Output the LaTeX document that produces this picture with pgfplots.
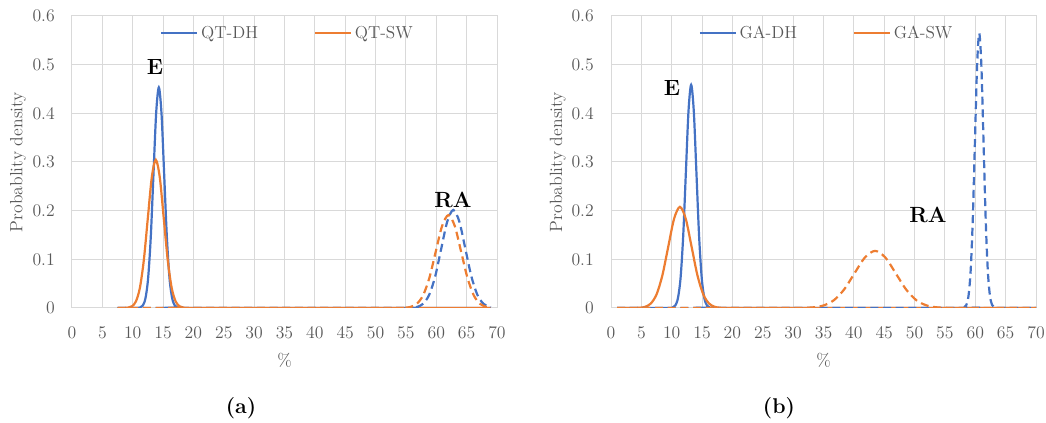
\documentclass[border=0pt]{standalone}
\usepackage{pgfplots}
\pgfplotsset{compat=1.18}
\definecolor{xlBlue}{HTML}{4472C4}
\definecolor{xlOrange}{HTML}{ED7D31}
\definecolor{xlGrid}{HTML}{D9D9D9}
\definecolor{xlText}{HTML}{595959}

\pgfplotsset{
  pdfpanel/.style={
    scale only axis, width=318.75pt, height=219pt,
    xmin=0, xmax=70, ymin=0, ymax=0.6,
    xtick={0,5,...,70}, ytick={0,0.1,0.2,0.3,0.4,0.5,0.6},
    grid=major, major grid style={xlGrid, line width=0.75pt},
    axis line style={xlGrid, line width=0.75pt},
    tick style={draw=none},
    /pgf/number format/assume math mode=true,
    /pgf/number format/fixed,
    tick label style={text=xlText, font=\fontsize{13.3}{16}\selectfont},
    xticklabel style={anchor=center, yshift=-18.75pt},
    yticklabel style={anchor=east, inner sep=0pt, xshift=-12.75pt},
    xlabel={\%}, ylabel={Probablity density},
    label style={text=xlText, font=\fontsize{13.3}{16}\selectfont},
    xlabel style={at={(axis description cs:0.5,-0.178)}, anchor=center},
    legend columns=2,
    legend style={draw=none, fill=none, at={(0.508,0.942)}, anchor=center,
      font=\fontsize{13}{16}\selectfont, text=xlText,
      /tikz/every even column/.append style={column sep=40pt}},
    legend image code/.code={\draw[#1] (0pt,0pt) -- (27pt,0pt);},
    every axis plot/.append style={line width=1.65pt},
  },
  solidE/.style={solid, smooth},
  dashRA/.style={dash pattern=on 6pt off 3.5pt, smooth},
}
\tikzset{peaklbl/.style={font=\bfseries\fontsize{16.5}{19}\selectfont, text=black}}

\begin{document}
\begin{tikzpicture}
\path[use as bounding box] (0,0) rectangle (784.5pt,317.25pt);

% (a) QT
\begin{axis}[pdfpanel, at={(54pt,86.25pt)}, anchor=south west,
  ylabel style={at={(axis description cs:-0.127,0.5)}, anchor=center}]
\addplot[xlBlue, solidE] coordinates {
 (7.5,0) (10.34,0) (11.22,0.00099) (11.66,0.00504) (12.10,0.01992) (12.54,0.06135)
 (12.98,0.14718) (13.42,0.27497) (13.86,0.40007) (14.30,0.45334) (14.74,0.40007)
 (15.18,0.27497) (15.62,0.14718) (16.06,0.06135) (16.50,0.01992) (16.94,0.00504)
 (17.38,0.00099) (18.26,0) (69,0)};
\addlegendentry{QT-DH}
\addplot[xlOrange, solidE] coordinates {
 (7.5,0) (7.905,0) (9.215,0.000666) (9.87,0.003383) (10.525,0.01338) (11.18,0.04121)
 (11.835,0.09887) (12.49,0.18471) (13.145,0.26875) (13.8,0.30454) (14.455,0.26875)
 (15.11,0.18471) (15.765,0.09887) (16.42,0.04121) (17.075,0.01338) (17.73,0.003383)
 (18.385,0.000666) (19.695,0) (69,0)};
\addlegendentry{QT-SW}
\addplot[xlBlue, dashRA, forget plot] coordinates {
 (7.5,0) (53.89,0) (55.87,0.000441) (56.86,0.002238) (57.85,0.008853) (58.84,0.027268)
 (59.83,0.065413) (60.82,0.122207) (61.81,0.177811) (62.8,0.201486) (63.79,0.177811)
 (64.78,0.122207) (65.77,0.065413) (66.76,0.027268) (67.75,0.008853) (68.74,0.002238)
 (69,0.0015)};
\addplot[xlOrange, dashRA, forget plot] coordinates {
 (7.5,0) (52.595,0) (54.685,0.000418) (55.73,0.002121) (56.775,0.008387) (57.82,0.025833)
 (58.865,0.061970) (59.91,0.115776) (60.955,0.168452) (62.0,0.190881) (63.045,0.168452)
 (64.09,0.115776) (65.135,0.061970) (66.18,0.025833) (67.225,0.008387) (68.27,0.002121)
 (69,0.0007)};
\node[peaklbl] at (axis cs:13.67,0.495) {E};
\node[peaklbl] at (axis cs:62.76,0.222) {RA};
\end{axis}

% (b) GA
\begin{axis}[pdfpanel, at={(458.25pt,86.25pt)}, anchor=south west,
  ylabel style={at={(axis description cs:-0.125,0.5)}, anchor=center}]
\addplot[xlBlue, solidE] coordinates {
 (1,0) (9.285,0) (10.155,0.001003) (10.59,0.005094) (11.025,0.020147) (11.46,0.062059)
 (11.895,0.148872) (12.33,0.278128) (12.765,0.404672) (13.2,0.458554) (13.635,0.404672)
 (14.07,0.278128) (14.505,0.148872) (14.94,0.062059) (15.375,0.020147) (15.81,0.005094)
 (16.245,0.001003) (17.115,0) (70,0)};
\addlegendentry{GA-DH}
\addplot[xlOrange, solidE] coordinates {
 (1,0) (2.71,0) (4.63,0.000455) (5.59,0.002308) (6.55,0.009129) (7.51,0.028120)
 (8.47,0.067457) (9.43,0.126027) (10.39,0.183367) (11.35,0.207782) (12.31,0.183367)
 (13.27,0.126027) (14.23,0.067457) (15.19,0.028120) (16.15,0.009129) (17.11,0.002308)
 (18.07,0.000455) (19.99,0) (70,0)};
\addlegendentry{GA-SW}
\addplot[xlBlue, dashRA, forget plot] coordinates {
 (1,0) (57.47,0) (58.1755,0.001235) (58.529,0.006269) (58.8825,0.024792) (59.236,0.076367)
 (59.5895,0.183195) (59.943,0.342253) (60.2965,0.497974) (60.65,0.564276) (61.0035,0.497974)
 (61.357,0.342253) (61.7105,0.183195) (62.064,0.076367) (62.4175,0.024792) (62.771,0.006269)
 (63.1245,0.001235) (63.83,0) (70,0)};
\addplot[xlOrange, dashRA, forget plot] coordinates {
 (1,0) (28.2,0) (31.6,0.000257) (33.3,0.001304) (35.0,0.005155) (36.7,0.015880)
 (38.4,0.038094) (40.1,0.071168) (41.8,0.103549) (43.5,0.117336) (45.2,0.103549)
 (46.9,0.071168) (48.6,0.038094) (50.3,0.015880) (52.0,0.005155) (53.7,0.001304)
 (55.4,0.000257) (58.8,0) (70,0)};
\node[peaklbl] at (axis cs:10.05,0.452) {E};
\node[peaklbl] at (axis cs:52.2,0.191) {RA};
\end{axis}

\node[font=\bfseries\fontsize{16}{19}\selectfont] at (180.75pt,11.25pt) {(a)};
\node[font=\bfseries\fontsize{16}{19}\selectfont] at (584.25pt,11.25pt) {(b)};
\end{tikzpicture}
\end{document}
